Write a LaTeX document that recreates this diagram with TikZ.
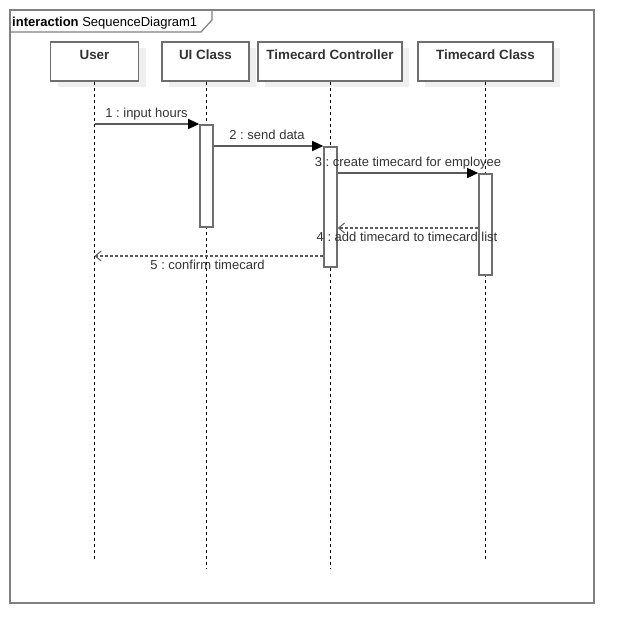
\documentclass[tikz,border=0pt]{standalone}
\usepackage{fontspec}
\setmainfont{Liberation Sans}
\frenchspacing
\usetikzlibrary{arrows.meta,shadows,calc}
\definecolor{framegray}{HTML}{808080}
\definecolor{boxgray}{HTML}{6E6E6E}
\definecolor{linegray}{HTML}{5A5A5A}
\definecolor{txtgray}{HTML}{333333}
\definecolor{shadowgray}{HTML}{EFEFEF}
\begin{document}
\begin{tikzpicture}[x=1pt,y=-1pt,
  lifebox/.style={draw=boxgray, line width=1.8pt, fill=white, rectangle,
    minimum height=39pt, inner xsep=0pt, inner ysep=4pt, text height=14pt, text depth=17pt,
    font=\fontsize{13.4}{15}\selectfont\bfseries, text=txtgray,
    drop shadow={shadow xshift=7pt, shadow yshift=-6pt, fill=shadowgray, opacity=1}},
  lifeline/.style={draw=black, line width=0.8pt, dash pattern=on 3pt off 3pt},
  actbar/.style={draw=boxgray, line width=1.6pt, fill=white, rectangle, minimum width=13pt, inner sep=0pt},
  callmsg/.style={draw=linegray, line width=1.4pt, -{Triangle[length=11pt,width=10pt,fill=black,color=black]}},
  retmsg/.style={draw=linegray, line width=1.2pt, dash pattern=on 3pt off 2pt, -{Straight Barb[length=6pt,width=10pt,line width=1pt]}},
  msglabel/.style={font=\fontsize{13}{15}\selectfont, text=txtgray, anchor=base, inner sep=0pt}
]
\useasboundingbox (0,0) rectangle (634,644);
% frame
\draw[draw=framegray, line width=2pt] (10,10) rectangle (594,603);
\draw[draw=framegray, line width=1.2pt] (10,32) -- (201,32) -- (212,20) -- (212,10);
\node[anchor=base west, inner sep=0pt, font=\fontsize{13}{15}\selectfont] (framelabel) at (12,26.5) {\textbf{interaction} SequenceDiagram1};

% lifeline heads
\node[lifebox, minimum width=88pt] (user) at (94.5,61.5) {User};
\node[lifebox, minimum width=87pt] (ui) at (205.5,61.5) {UI Class};
\node[lifebox, minimum width=144pt] (ctrl) at (330,61.5) {Timecard Controller};
\node[lifebox, minimum width=135pt] (tc) at (485.5,61.5) {Timecard Class};

% lifeline ends
\coordinate (userend) at (94.5,559);
\coordinate (uiend) at (206.5,569);
\coordinate (ctrlend) at (330.5,569);
\coordinate (tcend) at (485.5,559);

\draw[lifeline] (user.south -| userend) -- (userend);
\draw[lifeline] (ui.south -| uiend) -- (uiend);
\draw[lifeline] (ctrl.south -| ctrlend) -- (ctrlend);
\draw[lifeline] (tc.south -| tcend) -- (tcend);

% activation bars
\node[actbar, minimum height=102pt, anchor=north] (uibar) at (206.5,124) {};
\node[actbar, minimum height=120pt, anchor=north] (ctrlbar) at (330.5,146) {};
\node[actbar, minimum height=101pt, anchor=north] (tcbar) at (485.5,173) {};

% messages
\coordinate (m1s) at (94.5,124);
\draw[callmsg] (m1s) -- (uibar.north west);
\node[msglabel] (l1) at (146.5,117.5) {1 : input hours};

\draw[callmsg] (uibar.east |- ctrlbar.north) -- (ctrlbar.north west);
\node[msglabel] (l2) at (267,140) {2 : send data};

\draw[callmsg] (ctrlbar.east |- tcbar.north) -- (tcbar.north west);
\node[msglabel] (l3) at (408,166.5) {3 : create timecard for employee};

\coordinate (m4y) at (0,228);
\draw[retmsg] (tcbar.west |- m4y) -- (ctrlbar.east |- m4y);
\node[msglabel] (l4) at (407,241.5) {4 : add timecard to timecard list};

\coordinate (m5e) at (94.5,256);
\draw[retmsg] (ctrlbar.west |- m5e) -- (m5e);
\node[msglabel] (l5) at (207.5,269.5) {5 : confirm timecard};
\end{tikzpicture}
\end{document}
